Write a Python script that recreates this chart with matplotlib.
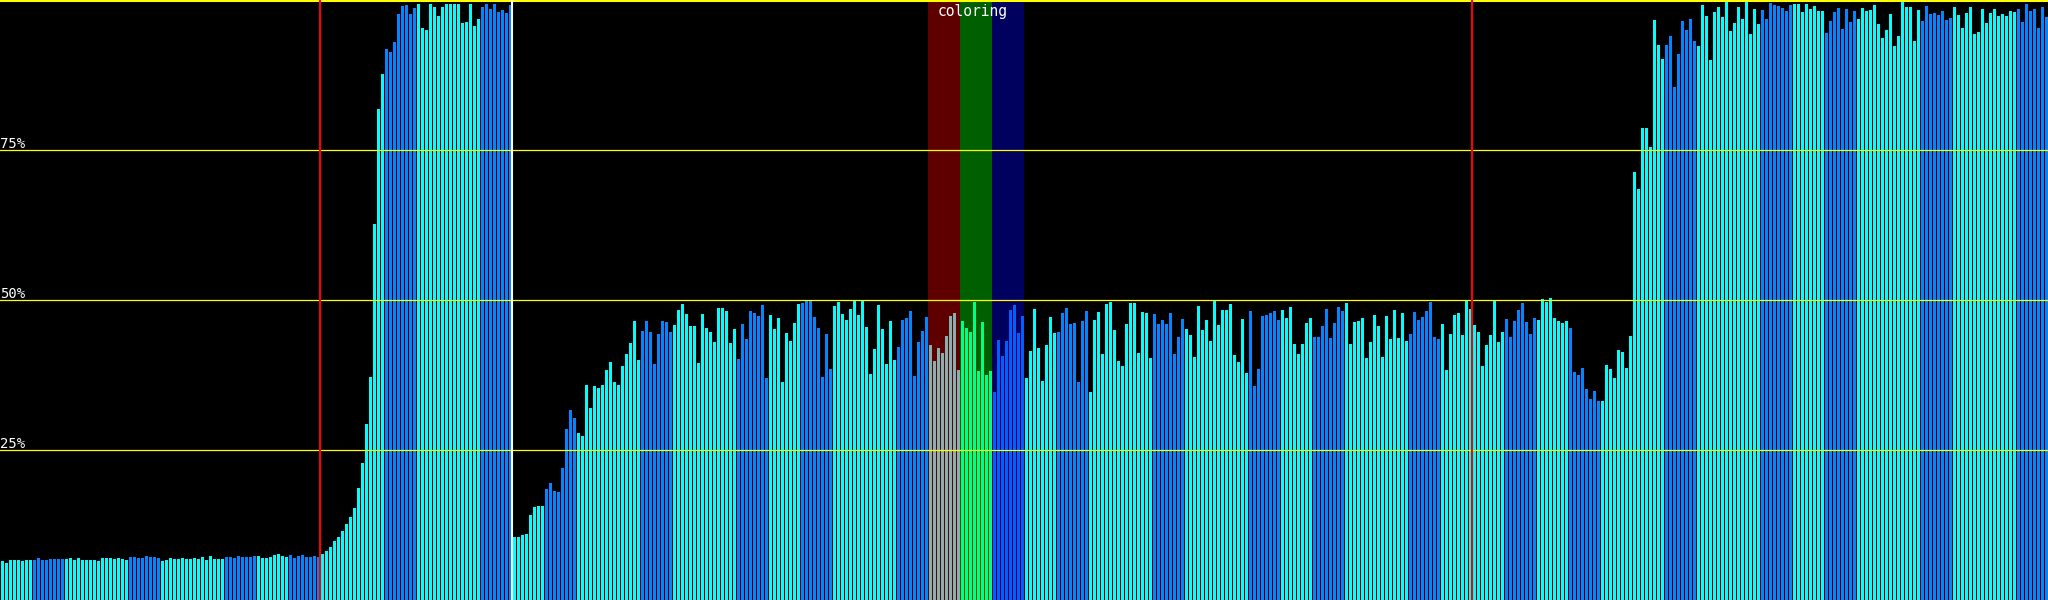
import numpy as np
import matplotlib
matplotlib.use('Agg')
import matplotlib.pyplot as plt

# utilisation (%) per sample left to right
idle_before = [6.5, 6.2, 6.7, 6.7, 6.7, 6.5, 6.7, 6.7, 6.7, 7.0, 6.7, 6.7, 6.8, 6.8, 6.8, 6.8,
               6.8, 7.0, 6.7, 7.0, 6.7, 6.7, 6.7, 6.7, 6.5, 7.0, 7.0, 7.0, 6.8, 7.0, 6.8, 6.7,
               7.1, 7.1, 7.0, 7.0, 7.3, 7.1, 7.1, 7.0, 6.5, 6.7, 7.0, 6.8, 6.8, 7.0, 6.8, 6.8,
               7.0, 6.8, 7.1, 6.7, 7.3, 6.8, 6.8, 6.8, 7.1, 7.1, 7.0, 7.3, 7.1, 7.1, 7.1, 7.3,
               7.3, 7.0, 7.0, 7.1, 7.5, 7.7, 7.3, 7.1, 7.5, 7.0, 7.3, 7.5, 7.1, 7.1, 7.3, 7.1]
ramp_up = [7.7, 8.1, 8.8, 9.8, 10.5, 11.5, 12.7, 13.8, 15.4, 18.6, 22.8, 29.3, 37.1, 62.6, 81.8, 87.6,
           91.8, 91.3, 93.0, 97.6, 99.0, 99.1, 97.6, 98.6, 99.4, 95.4, 95.0, 99.3, 98.9, 97.4, 98.9, 99.4,
           99.4, 99.3, 99.4, 96.1, 96.4, 99.4, 95.7, 96.8, 98.9, 99.4, 98.5, 99.3, 98.0, 98.3, 97.8, 99.1]
warm_up = [10.5, 10.5, 10.8, 11.0, 14.2, 15.5, 15.7, 15.7, 18.5, 19.5, 18.2, 18.0, 22.0, 28.5, 31.7, 30.4,
           27.8, 27.4, 35.8, 32.0, 35.7, 35.3, 35.8, 38.3, 39.7, 36.4, 35.8, 39.0, 41.0, 42.9, 46.5, 40.0,
           44.8, 46.5, 44.6, 39.3, 44.3, 46.5, 46.4, 44.6, 45.9, 48.3, 49.4, 47.6, 45.7, 45.7, 39.5, 47.6,
           45.3, 44.6, 43.0, 48.7, 48.7, 48.2, 42.9, 45.2, 40.2, 46.0, 43.5, 48.2, 47.8, 47.3, 49.2, 37.0,
           47.5, 45.2, 47.0, 36.4, 44.5, 43.2, 46.2, 49.4, 49.5, 49.8, 49.8, 47.2, 45.3, 37.2, 44.3, 38.5,
           49.0, 49.7, 47.6, 46.7, 48.5, 49.8, 47.5, 49.8, 45.5, 37.7, 41.8, 49.2, 45.2, 39.3, 46.5, 40.0,
           42.2, 46.7, 47.0, 48.2, 37.3, 43.0, 44.8, 47.2]
coloring = [42.5, 39.8, 42.0, 41.2, 44.0, 47.3, 47.8, 38.3,
            46.5, 45.3, 44.7, 49.7, 38.2, 46.3, 37.5, 38.2,
            34.7, 43.3, 40.7, 43.2, 48.3, 49.2, 44.5, 47.3]
plateau = [37.0, 41.5, 48.5, 42.0, 36.5, 42.5, 47.2, 44.5, 44.6, 47.8, 48.7, 46.0, 46.2, 36.4, 46.5, 48.2,
           34.7, 46.7, 48.0, 41.0, 49.4, 49.7, 45.0, 39.9, 39.0, 46.0, 49.5, 49.5, 41.1, 48.0, 47.8, 40.3,
           47.6, 46.0, 46.7, 46.0, 47.8, 41.0, 43.8, 46.8, 45.2, 44.2, 40.5, 49.0, 45.0, 46.7, 43.2, 49.8,
           45.9, 48.3, 48.3, 49.4, 40.8, 39.7, 46.8, 37.8, 48.2, 35.7, 38.5, 47.3, 47.5, 47.8, 48.2, 46.7,
           48.3, 47.0, 48.9, 42.7, 41.0, 42.7, 46.2, 47.0, 43.8, 43.8, 45.7, 48.5, 43.7, 46.2, 48.9, 48.2,
           49.5, 42.7, 46.4, 46.5, 47.0, 40.3, 43.0, 47.5, 45.7, 40.5, 47.3, 43.5, 48.3, 43.7, 47.8, 43.2,
           44.3, 48.0, 46.7, 47.2, 48.2, 49.7, 43.8, 43.5, 46.0, 38.3, 44.3, 47.5, 47.8, 44.2, 49.8, 48.5,
           45.9, 44.6, 39.0, 42.5, 44.2, 49.8, 43.0]
final = [44.6, 46.8, 43.8, 46.5, 48.3, 49.5, 46.4, 44.3, 47.0, 46.7, 50.2, 49.7, 50.3, 47.0, 46.5, 46.2,
         46.5, 45.3, 38.0, 37.5, 38.6, 35.1, 33.5, 34.8, 33.2, 33.2, 39.2, 38.5, 37.0, 41.6, 41.3, 38.6,
         44.0, 71.4, 68.5, 78.6, 78.6, 75.5, 96.7, 92.5, 90.2, 92.5, 94.0, 85.5, 91.0, 96.5, 95.0, 96.8,
         93.2, 92.3, 99.2, 97.3, 90.0, 98.0, 98.9, 97.2, 99.7, 94.8, 96.2, 98.9, 96.8, 99.7, 94.3, 98.5,
         96.0, 98.3, 96.8, 99.5, 99.2, 99.0, 98.7, 98.2, 99.2, 99.4, 99.4, 98.0, 99.4, 98.5, 99.0, 98.2,
         98.2, 94.5, 96.5, 98.0, 98.7, 95.2, 98.5, 96.4, 98.1, 96.8, 98.7, 98.2, 98.3, 99.2, 96.0, 93.7,
         95.0, 97.6, 92.3, 94.0, 99.7, 98.9, 98.9, 93.2, 98.3, 96.5, 99.0, 97.6, 97.8, 97.5, 98.2, 96.7,
         97.0, 98.9, 97.5, 95.3, 97.8, 98.9, 94.3, 94.6, 98.5, 96.2, 97.8, 98.5, 97.3, 97.6, 97.3, 98.2,
         98.0, 98.5, 96.4, 99.4, 98.2, 98.5, 95.3, 98.9, 97.2]

load = np.array(idle_before + ramp_up + warm_up + coloring + plateau + final)
idx = np.arange(len(load))

# groups of 8 samples, dark-blue groups inside each block of 16
blue_groups = [1, 4, 7, 9, 12, 15]
band_start = 232  # first sample of the "coloring" window
band_colors = ['#5f0000', '#005f00', '#00005f']
band_bar_colors = ['#87afaf', '#00ff87', '#005fff']
markers_red = [80, 368]
marker_white = 128

colors = []
for i in idx:
    if band_start <= i < band_start + 24:
        colors.append(band_bar_colors[(i - band_start) // 8])
    elif (i // 8) % 16 in blue_groups:
        colors.append('#0087ff')
    else:
        colors.append('#00ffff')

fig = plt.figure(figsize=(20.48, 6), dpi=100, facecolor='black')
ax = fig.add_axes([0, 0, 1, 1])
ax.set_facecolor('black')

for k, c in enumerate(band_colors):
    ax.axvspan(band_start + 8 * k - 0.25, band_start + 8 * (k + 1) - 0.25, color=c, lw=0, zorder=0)

ax.bar(idx, load, width=0.75, align='edge', color=colors, linewidth=0, antialiased=False, zorder=2)

for v in [25, 50, 75]:
    ax.axhline(v, color='#ffff00', lw=0.9, zorder=3)
    ax.text(-0.25, v + 0.35, '%d%%' % v, color='white', family='DejaVu Sans Mono',
            fontsize=10, ha='left', va='baseline', zorder=4)
ax.axhline(100, color='#ffff00', lw=2.2, zorder=3, clip_on=False)

for m in markers_red:
    ax.axvline(m - 0.25, color='#ff0000', lw=1.5, zorder=3)
ax.axvline(marker_white - 0.25, color='white', lw=1.5, zorder=3)

ax.text(band_start + 11, 99.4, 'coloring', color='white', family='DejaVu Sans Mono',
        fontsize=10.5, ha='center', va='top', zorder=4)

ax.set_xlim(-0.25, len(load) - 0.25)
ax.set_ylim(0, 100)
ax.axis('off')

fig.savefig('out.png', dpi=100, facecolor='black')
